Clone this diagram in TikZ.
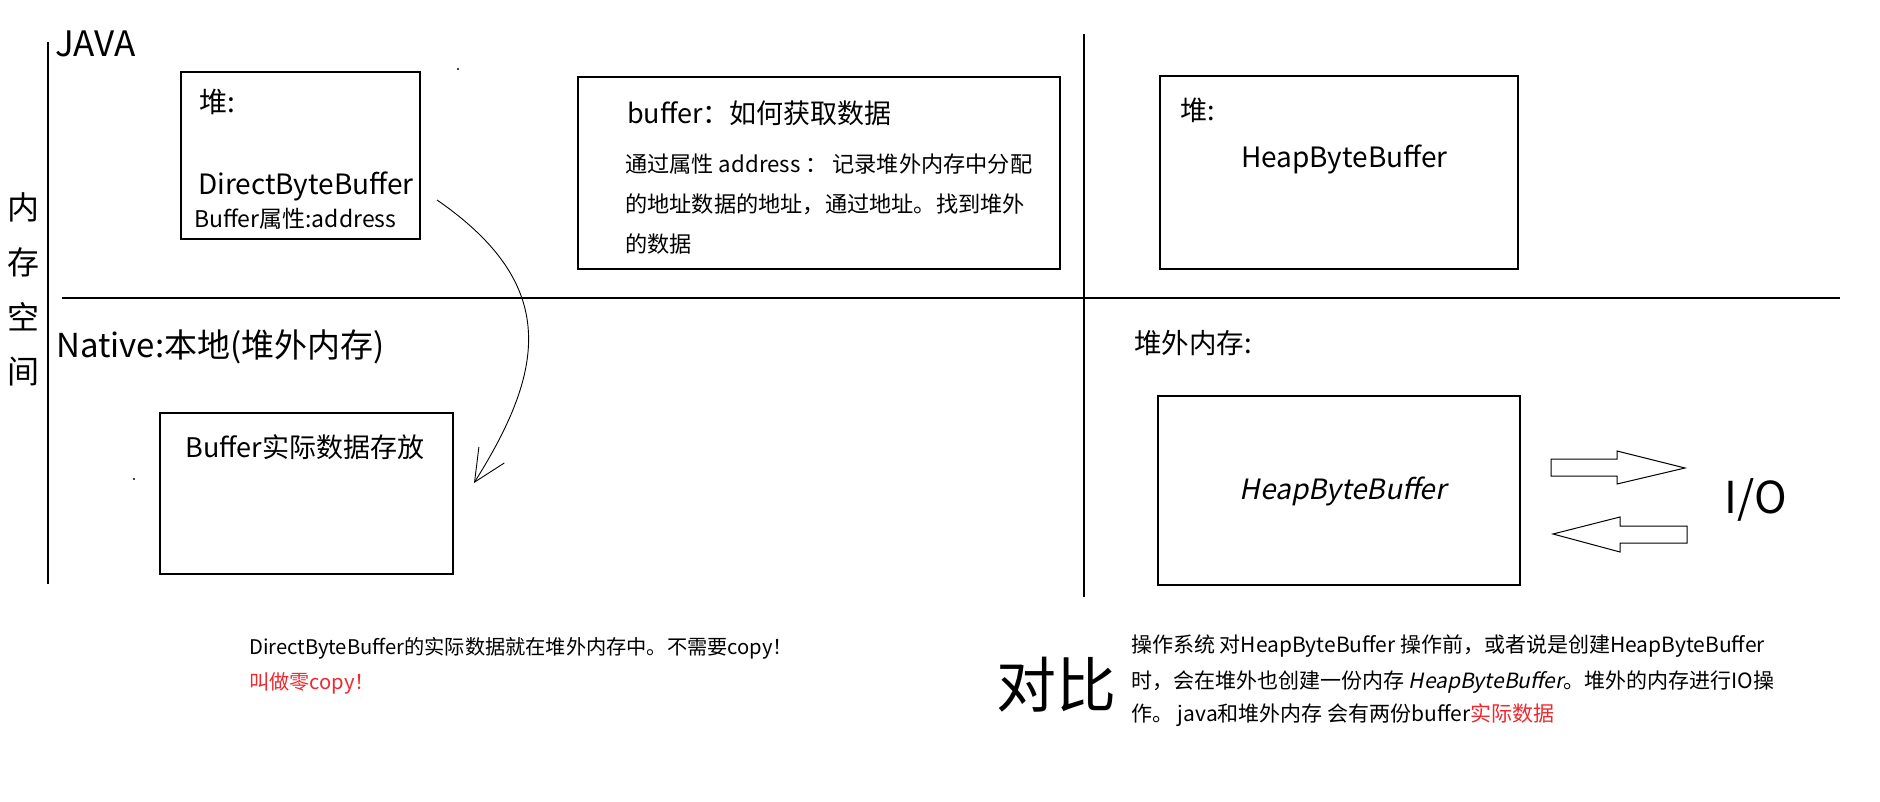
\documentclass[tikz,border=0pt]{standalone}
\usepackage{fontspec}
\setmainfont{Noto Sans CJK SC}[AutoFakeSlant=0.2]
\usepackage{tikz}
\usetikzlibrary{arrows.meta,positioning}
\definecolor{memred}{HTML}{F0282D}
\tikzset{
  membox/.style={draw,line width=1.3pt,inner sep=0pt},
  divider/.style={line width=1.3pt},
  lbl/.style={inner sep=0pt,anchor=base west},
  hollow/.style={draw,line width=1pt,line join=miter}
}

\begin{document}
\begin{tikzpicture}[x=1pt,y=-1pt]
      \useasboundingbox (0,0) rectangle (1880,802);
      % dividers
      \draw[divider] (48,42) -- (48,584);
      \draw[divider] (1084,34) -- (1084,597);
      \draw[divider] (62,298) -- (1840,298);
      % side title
      \foreach \ch [count=\i] in {内,存,空,间}
        \node[inner sep=0pt,font=\fontsize{32}{32}\selectfont] (side\i) at (24,152+55*\i) {\ch};
      \node[lbl,font=\fontsize{35}{35}\selectfont] (java) at (55,57) {JAVA};
      \node[lbl,font=\fontsize{33}{33}\selectfont] (native) at (56,357) {Native:本地(堆外内存)};
      % java heap, direct buffer
      \node[membox,minimum width=239,minimum height=167] (dheap) at (300.5,155.5) {};
      \node[lbl,font=\fontsize{28}{28}\selectfont] (dheapT) at (199,113) {堆:};
      \node[lbl,font=\fontsize{28}{28}\selectfont] (dbb) at (198,195) {DirectByteBuffer};
      \node[lbl,font=\fontsize{23}{23}\selectfont] (dattr) at (194,228) {Buffer属性:address};
      % how to get the data
      \node[membox,minimum width=482,minimum height=192] (howbox) at (819,173) {};
      \node[lbl,font=\fontsize{27}{27}\selectfont] (howT) at (627,124) {buffer：如何获取数据};
      \node[lbl,font=\fontsize{22.2}{22.2}\selectfont] (how1) at (625,173) {通过属性 address ： 记录堆外内存中分配};
      \node[lbl,font=\fontsize{22.2}{22.2}\selectfont] (how2) at (625,213) {的地址数据的地址，通过地址。找到堆外};
      \node[lbl,font=\fontsize{22.2}{22.2}\selectfont] (how3) at (625,253) {的数据};
      % native storage
      \node[membox,minimum width=293,minimum height=161] (nbox) at (306.5,493.5) {};
      \node[inner sep=0pt,font=\fontsize{27}{27}\selectfont] (nboxT) at (305,447) {Buffer实际数据存放};
      \coordinate (arrowfrom) at (437,200);
      \coordinate (arrowto) at (474,483);
      \draw[line width=0.9pt,-{Straight Barb[length=32pt,width=30pt]}] (arrowfrom) .. controls (560,285) and (545,370) .. (arrowto);
      \fill (458,69) circle (1.2);
      \fill (134,479) circle (1.2);
      % heap buffer side
      \node[membox,minimum width=358,minimum height=193] (hheap) at (1339,172.5) {};
      \node[lbl,font=\fontsize{27}{27}\selectfont] (hheapT) at (1180,121) {堆:};
      \node[lbl,font=\fontsize{28}{28}\selectfont] (hbb) at (1241,168) {HeapByteBuffer};
      \node[lbl,font=\fontsize{27.5}{27.5}\selectfont] (offT) at (1134,353) {堆外内存:};
      \node[membox,minimum width=362,minimum height=189] (offbox) at (1339,490.5) {};
      \node[inner sep=0pt,font=\fontsize{28}{28}\selectfont\itshape] (offbb) at (1343,491) {HeapByteBuffer};
      \node[inner sep=0pt,font=\fontsize{44}{44}\selectfont] (io) at (1756,500) {I/O};
      % hollow arrows to and from I/O
      \draw[hollow] (1551,459) -- (1617,459) -- (1617,451) -- (1685,468) -- (1617,484) -- (1617,476) -- (1551,476) -- cycle;
      \draw[hollow] (1553,534) -- (1620,517) -- (1620,526) -- (1687,526) -- (1687,543) -- (1620,543) -- (1620,552) -- cycle;
      % notes
      \node[lbl,font=\fontsize{20.2}{20.2}\selectfont] (note1) at (249,654) {DirectByteBuffer的实际数据就在堆外内存中。不需要copy！};
      \node[lbl,font=\fontsize{20.2}{20.2}\selectfont,text=memred] (note2) at (249,689) {叫做零copy！};
      \node[inner sep=0pt,font=\fontsize{60}{60}\selectfont] (cmp) at (1056,685) {对比};
      \node[lbl,font=\fontsize{21}{21}\selectfont] (par1) at (1131,652) {操作系统 对HeapByteBuffer 操作前，或者说是创建HeapByteBuffer};
      \node[lbl,font=\fontsize{21}{21}\selectfont] (par2) at (1131,688) {时，会在堆外也创建一份内存 \textit{HeapByteBuffer}。堆外的内存进行IO操};
      \node[lbl,font=\fontsize{21}{21}\selectfont] (par3) at (1131,721) {作。 java和堆外内存 会有两份buffer{\color{memred}实际数据}};
    \end{tikzpicture}
\end{document}
